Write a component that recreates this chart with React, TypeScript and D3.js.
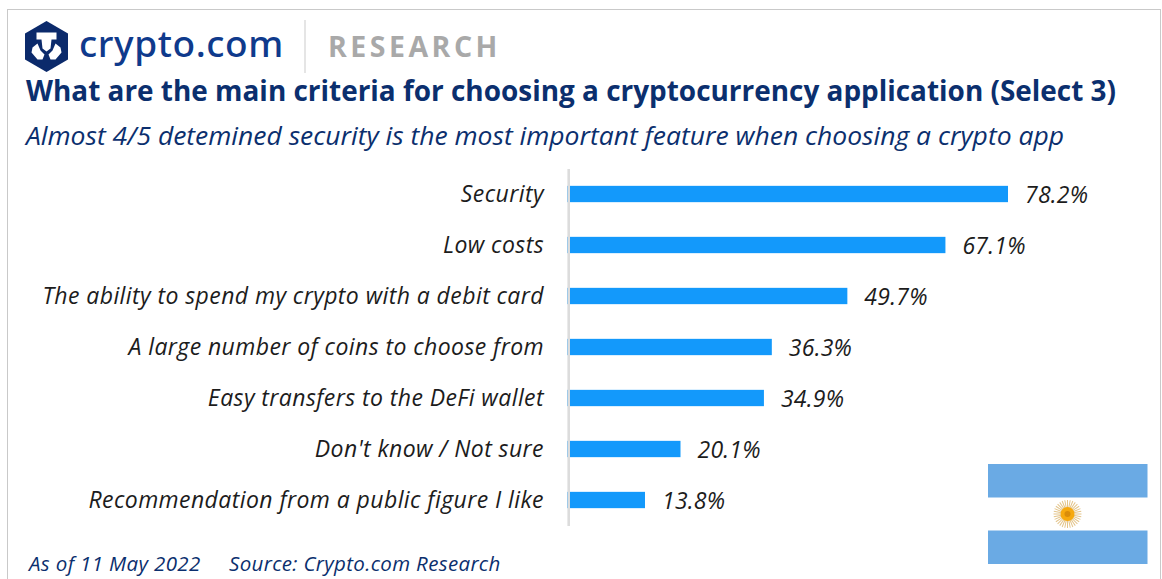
import React from "react";
import * as d3 from "d3";

const categories = [
  "Security",
  "Low costs",
  "The ability to spend my crypto with a debit card",
  "A large number of coins to choose from",
  "Easy transfers to the DeFi wallet",
  "Don't know / Not sure",
  "Recommendation from a public figure I like",
];
const values = [78.2, 67.1, 49.7, 36.3, 34.9, 20.1, 13.8];

const NAVY = "#0b2f6e";
const FF = "'Open Sans', sans-serif";

const x = d3.scaleLinear().domain([0, 78.2]).range([567.2, 1008]);
const y = d3.scaleBand<string>().domain(categories).range([168.5, 525.5]).paddingInner(0.68).paddingOuter(0.34);

const rays = d3.range(32).map((i) => (i * 360) / 32);

export default function App() {
  return (
    <svg width={1162} height={579} style={{ position: "absolute", left: 0, top: 0, background: "#fff" }} fontFamily={FF}>
      <rect x={7.5} y={9.5} width={1153} height={575} fill="#fff" stroke="#c9c9c9" strokeWidth={1} />
      {/* logo */}
      <g transform="translate(46.5,46.5)">
        <path d="M0,-25.5 L21.5,-13 L21.5,13 L0,25.5 L-21.5,13 L-21.5,-13 Z" fill="#0b2a6b" />
        <path d="M-10,-14 H10 V-7 H5 L4,2 L0,5 L-4,2 L-5,-7 H-10 Z" fill="#fff" />
        <path d="M-14,1 L-9,-3 L-6,4 L-2,8 L-4,13 L-9,13 L-15,6 Z" fill="#fff" />
        <path d="M14,1 L9,-3 L6,4 L2,8 L4,13 L9,13 L15,6 Z" fill="#fff" />
      </g>
      <text x={79} y={57} fontSize={37} fontWeight={500} fill="#0f3a8c" letterSpacing={0.6} fontFamily="'Noto Sans', sans-serif">crypto.com</text>
      <line x1={305} x2={305} y1={20} y2={73} stroke="#dcdcdc" strokeWidth={1.5} />
      <text x={328} y={57} fontSize={28.5} fontWeight={700} fill="#a9a9a9" letterSpacing={3.5}>RESEARCH</text>
      {/* titles */}
      <text x={26} y={100.5} fontSize={29} fontWeight={700} fill={NAVY} textLength={1090} lengthAdjust="spacingAndGlyphs">What are the main criteria for choosing a cryptocurrency application (Select 3)</text>
      <text x={26} y={145} fontSize={25.5} fontStyle="italic" fill={NAVY} textLength={1038} lengthAdjust="spacingAndGlyphs">Almost 4/5 detemined security is the most important feature when choosing a crypto app</text>
      {/* bars and labels */}
      {categories.map((c, i) => {
        const yc = y(c)! + y.bandwidth() / 2;
        return (
          <g key={c}>
            <text x={544} y={yc + 8} textAnchor="end" fontSize={23} fontStyle="italic" fill="#1c1c1c" letterSpacing={0.42}>{c}</text>
            <rect x={x(0)} y={y(c)!} width={x(values[i]) - x(0)} height={y.bandwidth()} fill="#1399fb" />
            <text x={x(values[i]) + 17} y={yc + 9} fontSize={23} fontStyle="italic" fill="#1c1c1c" letterSpacing={0.25}>{values[i].toFixed(1)}%</text>
          </g>
        );
      })}
      {/* axis */}
      <line x1={568.7} x2={568.7} y1={169} y2={526} stroke="#dcdcdc" strokeWidth={2.6} />
      {/* footer */}
      <text x={29} y={571} fontSize={20.5} fontStyle="italic" fill={NAVY} letterSpacing={0.36}>As of 11 May 2022</text>
      <text x={229} y={571} fontSize={20.5} fontStyle="italic" fill={NAVY} letterSpacing={0.34}>Source: Crypto.com Research</text>
      {/* flag */}
      <rect x={988} y={464} width={159.5} height={33.5} fill="#6aaae4" />
      <rect x={988} y={530.5} width={159.5} height={33.5} fill="#6aaae4" />
      <g transform="translate(1067.5,514)">
        {rays.map((r) => (
          <line key={r} x1={0} y1={-6} x2={0} y2={-14} stroke="#e3c48a" strokeWidth={1} transform={`rotate(${r})`} />
        ))}
        <circle r={7} fill="#f6a90f" />
        <circle r={3} fill="#d98c0a" />
      </g>
    </svg>
  );
}
